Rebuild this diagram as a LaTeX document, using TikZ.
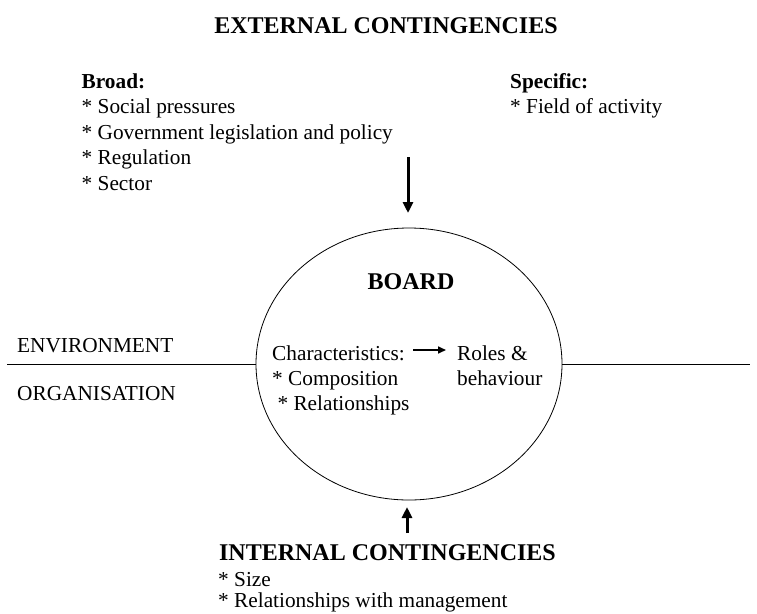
\documentclass[tikz,border=0pt]{standalone}
\usepackage{fontspec}
\setmainfont{Liberation Serif}
\usetikzlibrary{arrows.meta,shapes.geometric}
\begin{document}
\begin{tikzpicture}[x=1pt,y=-1pt,
  txt/.style={inner sep=0pt, anchor=base west, font=\fontsize{21.3}{25}\selectfont},
  btxt/.style={txt, font=\fontsize{21.3}{25}\selectfont\bfseries},
  ttl/.style={inner sep=0pt, anchor=base, font=\fontsize{24}{28}\selectfont\bfseries},
  bigarrow/.style={line width=3pt, -{Triangle[length=11pt,width=10pt]}},
  smallarrow/.style={line width=1.6pt, -{Triangle[length=8pt,width=7pt]}},
  thin/.style={line width=0.8pt}]
\useasboundingbox (0,0) rectangle (757,613);
% title
\node[ttl] (ext) at (386,33) {EXTERNAL CONTINGENCIES};
% broad
\node[btxt] (broad) at (81.5,88) {Broad:};
\node[txt] (b1) at (81.5,113.5) {* Social pressures};
\node[txt] (b2) at (81.5,139) {* Government legislation and policy};
\node[txt] (b3) at (81.5,164.5) {* Regulation};
\node[txt] (b4) at (81.5,190) {* Sector};
% specific
\node[btxt] (spec) at (510,88) {Specific:};
\node[txt] (s1) at (510,113.5) {* Field of activity};
% board ellipse
\node[ellipse, draw, thin, minimum width=306pt, minimum height=272pt, inner sep=0pt] (board) at (409,364) {};
\node[ttl] (boardtitle) at (411,289) {BOARD};
\node[txt] (char) at (272,360) {Characteristics:};
\node[txt] (c1) at (272,385) {* Composition};
\node[txt] (c2) at (272,410) {\ * Relationships};
\node[txt] (roles) at (457,360) {Roles \&};
\node[txt] (beh) at (457,385) {behaviour};
% environment / organisation
\node[txt] (env) at (17,352) {ENVIRONMENT};
\node[txt] (org) at (17,400) {ORGANISATION};
\coordinate (lstart) at (7,364);
\coordinate (rend) at (750,364);
\draw[thin] (lstart) -- (board.west);
\draw[thin] (board.east) -- (rend);
% arrows
\coordinate (dtop) at (408,157);
\coordinate (dtip) at (408,213);
\draw[bigarrow] (dtop) -- (dtip);
\coordinate (ubot) at (407,533);
\coordinate (utip) at (407,507);
\draw[bigarrow] (ubot) -- (utip);
\coordinate (sa) at (413,350);
\coordinate (sb) at (446,350);
\draw[smallarrow] (sa) -- (sb);
% internal
\node[ttl] (int) at (387.5,560) {INTERNAL CONTINGENCIES};
\node[txt] (i1) at (218,586) {* Size};
\node[txt] (i2) at (218,607.5) {* Relationships with management};
\end{tikzpicture}
\end{document}
